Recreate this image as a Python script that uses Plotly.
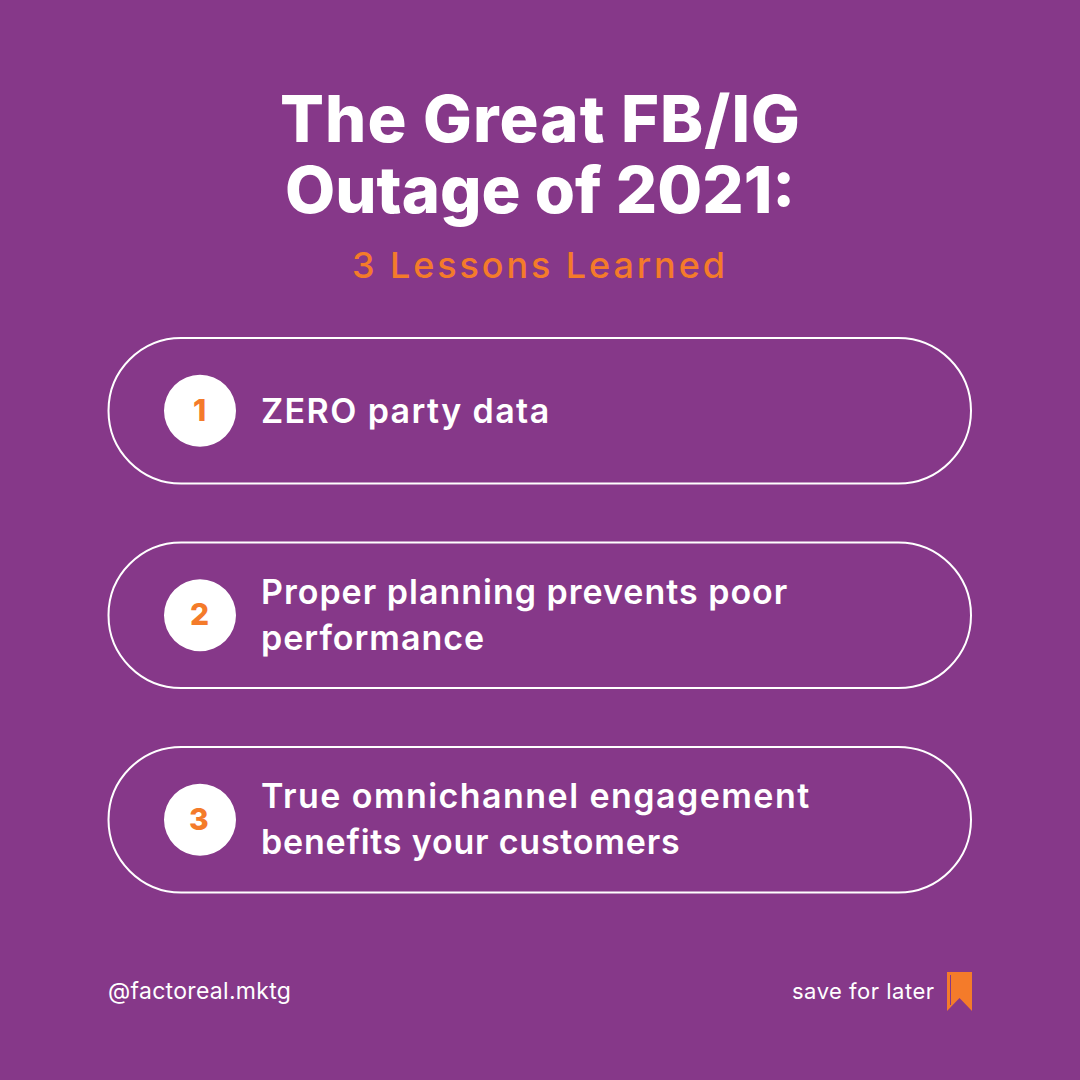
import plotly.graph_objects as go

TITLE_LINES = ["The Great FB/IG", "Outage of 2021:"]
SUBTITLE = "3 Lessons Learned"
LESSON_NUMBERS = ["1", "2", "3"]
LESSON_TEXTS = [["ZERO party data"],
                ["Proper planning prevents poor", "performance"],
                ["True omnichannel engagement", "benefits your customers"]]
HANDLE = "@factoreal.mktg"
SAVE = "save for later"

PURPLE = "#863889"
ORANGE = "#F47B2A"
WHITE = "#FFFFFF"
FONT = "Inter"

fig = go.Figure()
shapes = []
ann = []

def text(x, y, s, size, color=WHITE, weight=700, anchor="left", ls=0):
    label = f'<span style="letter-spacing:{ls}px">{s}</span>' if ls else s
    ann.append(dict(x=x, y=y, text=label, showarrow=False, xanchor=anchor, yanchor="middle",
                    xref="x", yref="y",
                    font=dict(family=FONT, size=size, color=color, weight=weight)))

def pill(x0, y0, x1, y1):
    r = (y1 - y0) / 2
    k = 0.5523 * r
    ym = (y0 + y1) / 2
    return (f"M {x0+r} {y0} L {x1-r} {y0} "
            f"C {x1-r+k} {y0} {x1} {ym-k} {x1} {ym} "
            f"C {x1} {ym+k} {x1-r+k} {y1} {x1-r} {y1} "
            f"L {x0+r} {y1} "
            f"C {x0+r-k} {y1} {x0} {ym+k} {x0} {ym} "
            f"C {x0} {ym-k} {x0+r-k} {y0} {x0+r} {y0} Z")

text(540, 118, TITLE_LINES[0], 65, anchor="center", weight=800, ls=1.1)
text(540, 189, TITLE_LINES[1], 65, anchor="center", weight=800)
text(540, 265, SUBTITLE, 36, color=ORANGE, anchor="center", weight=500, ls=2.9)

tops = [338, 542.5, 747]
spacings = [[1.4], [1.0, 1.0], [1.45, 0.8]]
for top, num, lines, sp in zip(tops, LESSON_NUMBERS, LESSON_TEXTS, spacings):
    bottom = top + 145.5
    mid = (top + bottom) / 2
    shapes.append(dict(type="path", path=pill(108.5, top, 971, bottom), xref="x", yref="y",
                       line=dict(color=WHITE, width=2), fillcolor="rgba(0,0,0,0)"))
    shapes.append(dict(type="circle", x0=164, x1=236, y0=mid - 36, y1=mid + 36, xref="x", yref="y",
                       line=dict(width=0), fillcolor=WHITE))
    text(199, mid - 1, num, 30, color=ORANGE, anchor="center", weight=800)
    if len(lines) == 1:
        text(259, mid - 0.5, lines[0], 34, weight=600, ls=sp[0])
    else:
        text(259, mid - 24, lines[0], 34, weight=600, ls=sp[0])
        text(259, mid + 22, lines[1], 34, weight=600, ls=sp[1])

text(106, 991, HANDLE, 23, weight=400, ls=0.3)
text(937, 991, SAVE, 22, weight=400, anchor="right", ls=0.5)
shapes.append(dict(type="path", path="M 947 972 L 972 972 L 972 1011 L 959.5 998 L 947 1011 Z",
                   xref="x", yref="y", line=dict(width=0), fillcolor=ORANGE))
shapes.append(dict(type="line", x0=950.5, x1=950.5, y0=975, y1=1005, xref="x", yref="y",
                   line=dict(color=PURPLE, width=1)))

fig.update_layout(width=1080, height=1080, margin=dict(l=0, r=0, t=0, b=0),
                  paper_bgcolor=PURPLE, plot_bgcolor=PURPLE, shapes=shapes, annotations=ann,
                  showlegend=False,
                  xaxis=dict(range=[0, 1080], visible=False, fixedrange=True),
                  yaxis=dict(range=[1080, 0], visible=False, fixedrange=True))
fig.write_html("out.html", config=dict(displayModeBar=False), include_plotlyjs=True,
               post_script="document.body.style.margin='0';document.body.style.background='#863889';document.documentElement.style.overflow='hidden';")
